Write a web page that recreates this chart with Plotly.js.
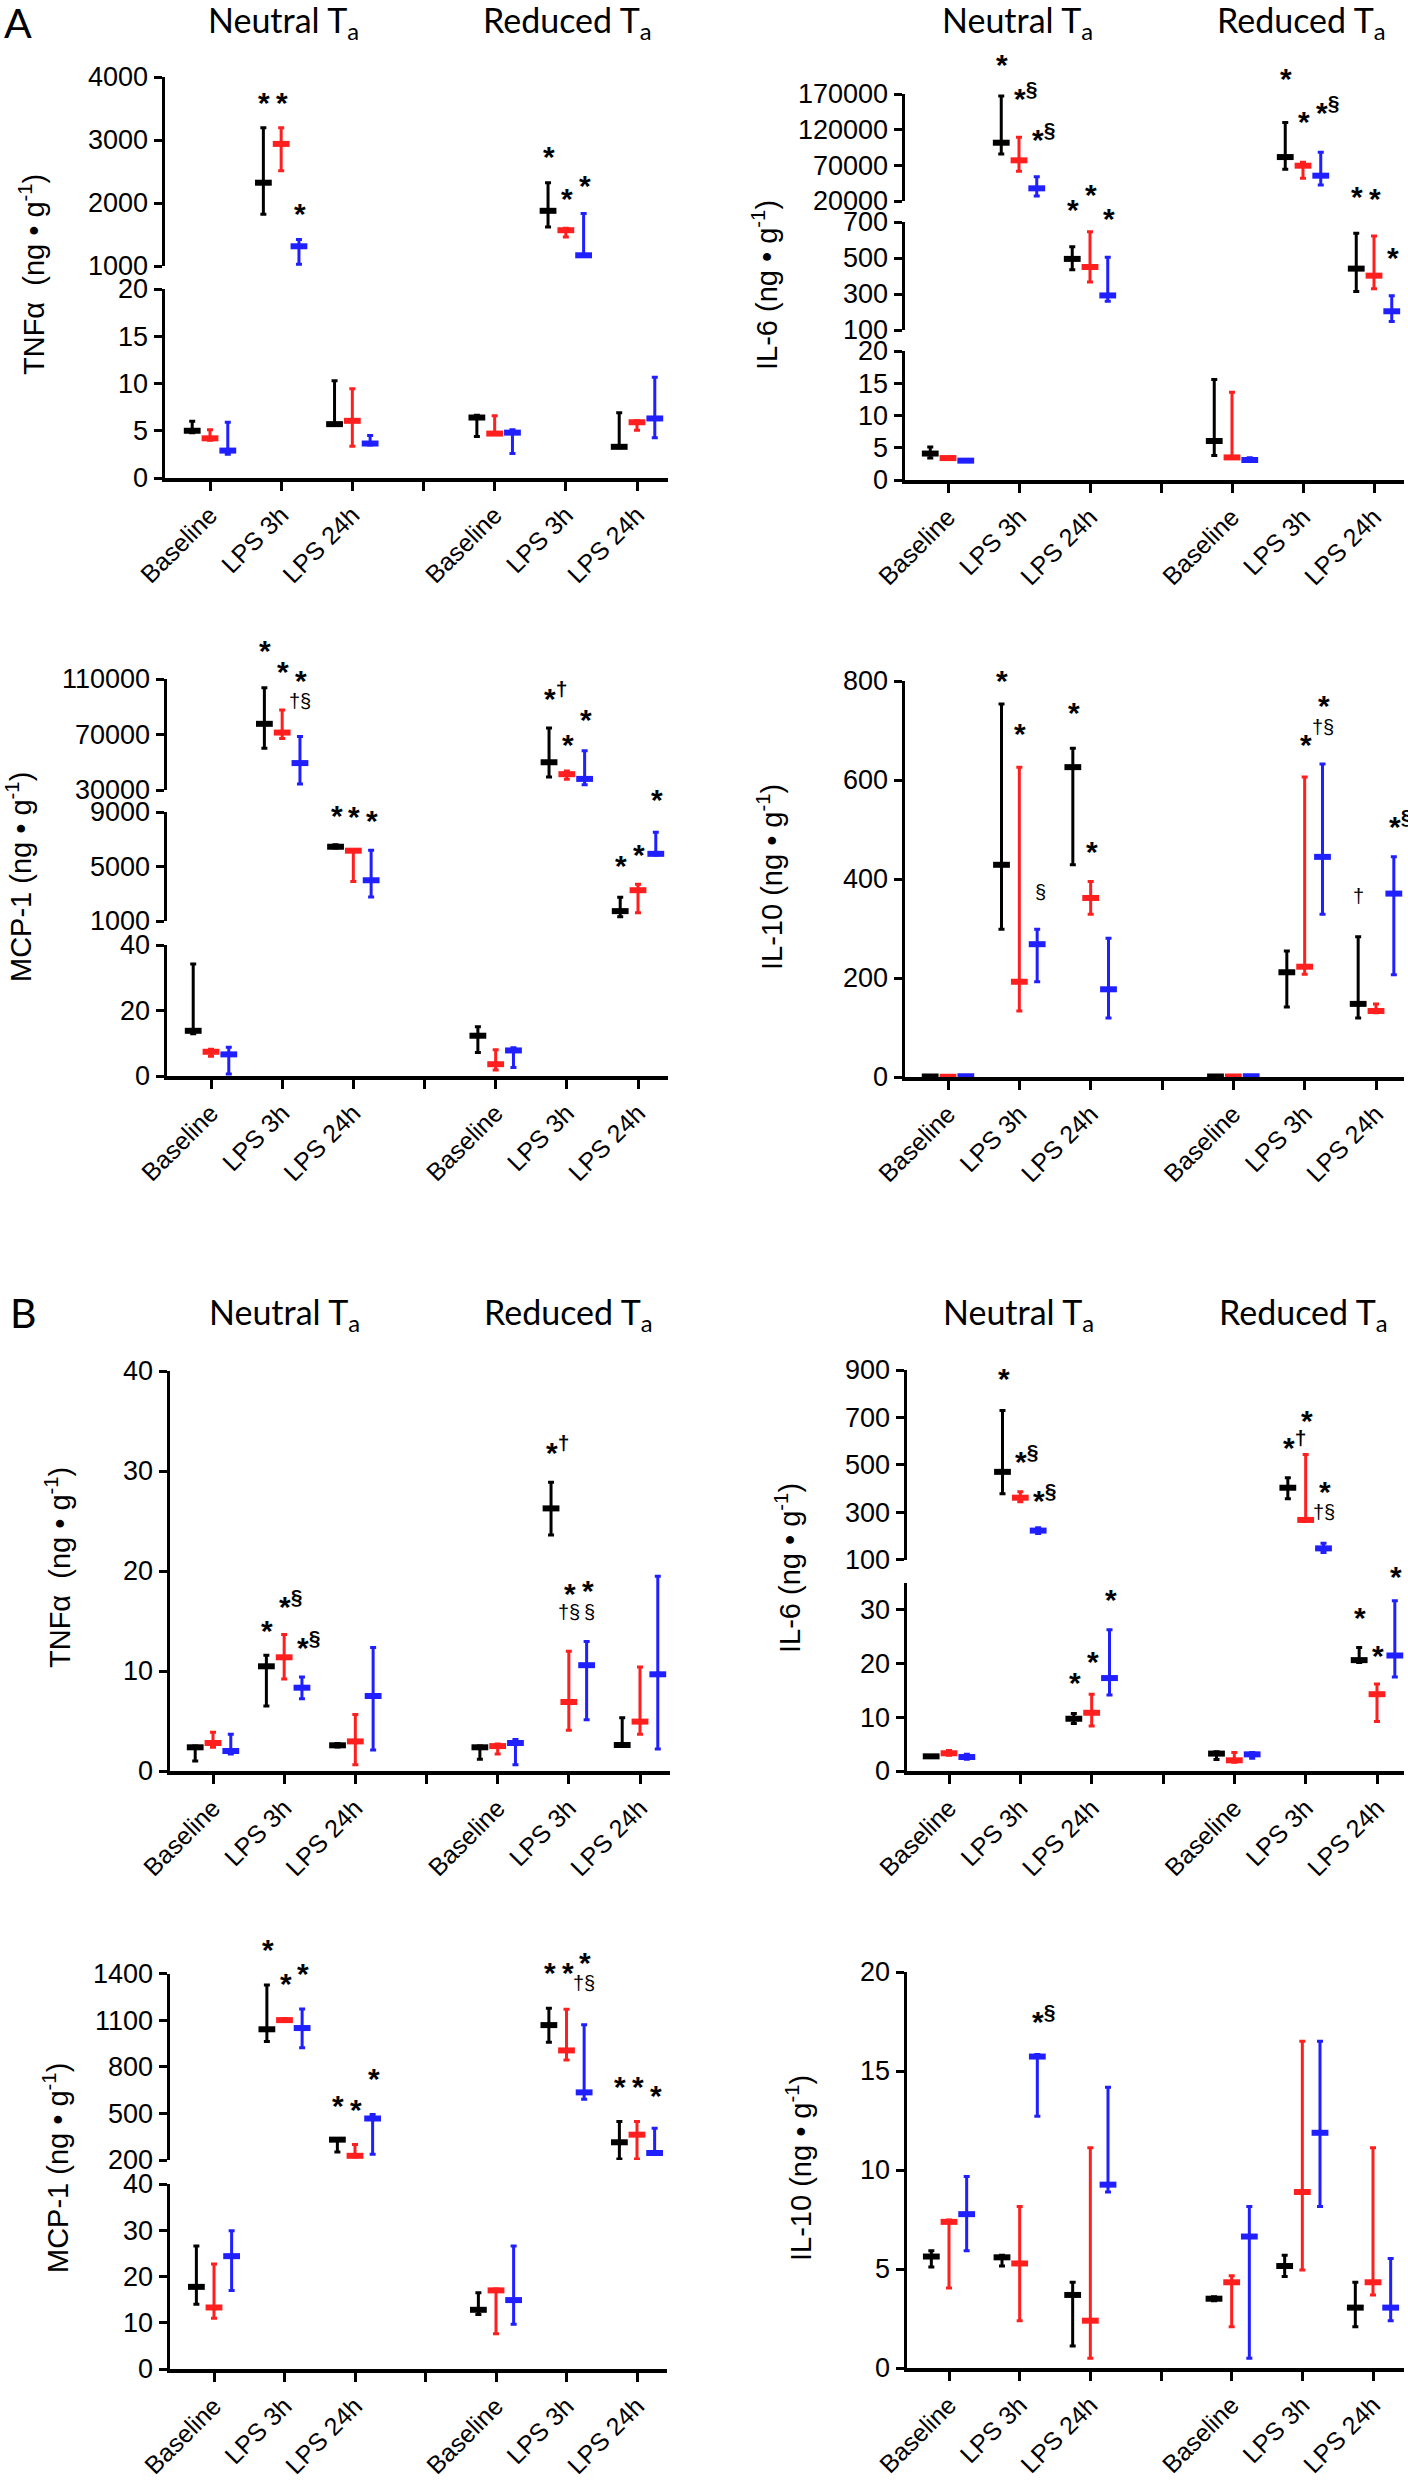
<!DOCTYPE html>
<html><head><meta charset="utf-8">
<script src="https://cdn.plot.ly/plotly-3.0.1.min.js"></script>
<style>html,body{margin:0;padding:0;background:#fff}</style>
</head><body><div id="chart" style="width:1408px;height:2483px"></div>
<script>
// ---------- DATA ----------
const categories = ['Baseline', 'LPS 3h', 'LPS 24h', 'Baseline', 'LPS 3h', 'LPS 24h'];
const conditions = ['Neutral', 'Neutral', 'Neutral', 'Reduced', 'Reduced', 'Reduced'];
const tickLabels = ['Baseline', 'LPS 3h', 'LPS 24h', '', 'Baseline', 'LPS 3h', 'LPS 24h'];
const tickPositions = [1, 2, 3, 4, 5, 6, 7];
const categoryPositions = [1, 2, 3, 5, 6, 7];
const seriesNames = ['Group 1 (black)', 'Group 2 (red)', 'Group 3 (blue)'];
const seriesColors = ['#000000', '#ff1f1f', '#1f1fff'];

// Panel A — TNFα
const A_TNF_black = [5.0, 2322, 5.7, 6.4, 1876, 3.3];
const A_TNF_black_hi = [6.0, 3193, 10.3, 6.65, 2322, 6.9];
const A_TNF_black_lo = [4.8, 1823, 5.6, 4.4, 1621, 3.2];
const A_TNF_red = [4.2, 2938, 6.05, 4.7, 1568, 5.9];
const A_TNF_red_hi = [5.1, 3193, 9.45, 6.6, 1600, 6.05];
const A_TNF_red_lo = [4.0, 2513, 3.36, 4.6, 1462, 5.06];
const A_TNF_blue = [2.9, 1313, 3.65, 4.8, 1170, 6.3];
const A_TNF_blue_hi = [5.9, 1420, 4.5, 5.1, 1834, 10.66];
const A_TNF_blue_lo = [2.5, 1027, 3.5, 2.6, 1150, 4.25];
// Panel A — IL-6
const A_IL6_black = [4.1, 101700, 495, 6.05, 81600, 441];
const A_IL6_black_hi = [5.1, 167100, 562, 15.6, 130200, 637];
const A_IL6_black_lo = [3.4, 85850, 435, 3.8, 64400, 314];
const A_IL6_red = [3.4, 77000, 450, 3.5, 69500, 402];
const A_IL6_red_hi = [3.5, 109200, 646, 13.6, 74200, 622];
const A_IL6_red_lo = [3.3, 61560, 366, 3.4, 51800, 329];
const A_IL6_blue = [3.0, 37750, 292, 3.1, 55500, 204];
const A_IL6_blue_hi = [3.1, 54100, 504, 3.46, 88200, 290];
const A_IL6_blue_lo = [2.9, 27000, 260, 3.0, 42400, 147];
// Panel A — MCP-1
const A_MCP1_black = [13.8, 77700, 6450, 12.3, 50000, 1725];
const A_MCP1_black_hi = [34.2, 103700, 6600, 15.0, 74600, 2740];
const A_MCP1_black_lo = [12.9, 60000, 6350, 7.2, 39400, 1320];
const A_MCP1_red = [7.4, 71400, 6160, 3.6, 41400, 3260];
const A_MCP1_red_hi = [8.2, 87700, 6250, 8.0, 43700, 3700];
const A_MCP1_red_lo = [6.0, 67100, 3900, 1.8, 37700, 1610];
const A_MCP1_blue = [6.6, 49400, 3990, 7.8, 38000, 5930];
const A_MCP1_blue_hi = [8.8, 68600, 6190, 8.6, 58300, 7520];
const A_MCP1_blue_lo = [0.6, 34300, 2770, 2.6, 33700, 5850];
// Panel A — IL-10
const A_IL10_black = [1, 428.7, 626, 1, 211.6, 147.7];
const A_IL10_black_hi = [2, 753.7, 664, 2, 254.7, 283.4];
const A_IL10_black_lo = [0.5, 298.6, 428.7, 0.5, 141.3, 119];
const A_IL10_red = [0.5, 192.4, 361.7, 1, 222.8, 133.3];
const A_IL10_red_hi = [1, 626, 395.2, 1.5, 606, 147.7];
const A_IL10_red_lo = [0, 133.3, 329, 0.5, 207.6, 130];
const A_IL10_blue = [1.5, 268.3, 177.2, 1.5, 444.7, 370.5];
const A_IL10_blue_hi = [2, 298.6, 280.2, 2, 632.3, 444.7];
const A_IL10_blue_lo = [1, 192.4, 119, 1, 329, 206.8];
// Panel B — TNFα
const B_TNF_black = [2.37, 10.47, 2.57, 2.37, 26.26, 2.6];
const B_TNF_black_hi = [2.5, 11.57, 2.76, 2.5, 28.87, 5.33];
const B_TNF_black_lo = [1.0, 6.5, 2.4, 1.18, 23.6, 2.5];
const B_TNF_red = [2.8, 11.37, 2.96, 2.49, 6.9, 4.94];
const B_TNF_red_hi = [3.87, 13.66, 5.65, 2.69, 11.97, 10.39];
const B_TNF_red_lo = [2.37, 9.2, 0.63, 1.7, 4.07, 3.67];
const B_TNF_blue = [2.0, 8.33, 7.5, 2.8, 10.58, 9.67];
const B_TNF_blue_hi = [3.67, 9.4, 12.36, 3.16, 12.95, 19.47];
const B_TNF_blue_lo = [1.7, 7.23, 2.09, 0.63, 5.13, 2.21];
// Panel B — IL-6
const B_IL6_black = [2.73, 470, 9.73, 3.24, 403, 20.64];
const B_IL6_black_hi = [2.9, 729, 10.7, 3.6, 445, 23.0];
const B_IL6_black_lo = [2.6, 378, 8.85, 2.14, 356, 20.2];
const B_IL6_red = [3.3, 361, 10.84, 1.99, 267, 14.3];
const B_IL6_red_hi = [3.8, 386, 14.3, 3.46, 543.5, 16.2];
const B_IL6_red_lo = [2.95, 344, 8.4, 1.62, 261, 9.2];
const B_IL6_blue = [2.6, 222, 17.3, 3.1, 147, 21.5];
const B_IL6_blue_hi = [3.1, 234, 26.3, 3.46, 169, 31.7];
const B_IL6_blue_lo = [2.2, 210, 14.15, 2.36, 130, 17.5];
// Panel B — MCP-1
const B_MCP1_black = [17.76, 1041, 331, 12.8, 1068, 314];
const B_MCP1_black_hi = [26.6, 1326, 339, 16.5, 1177, 447];
const B_MCP1_black_lo = [14.0, 962, 252, 11.8, 957, 207];
const B_MCP1_red = [13.3, 1100, 227, 17.0, 905, 363];
const B_MCP1_red_hi = [22.7, 1110, 299, 17.3, 1170, 447];
const B_MCP1_red_lo = [10.95, 1091, 220, 7.6, 843, 207];
const B_MCP1_blue = [24.4, 1049, 467, 14.9, 635, 245];
const B_MCP1_blue_hi = [29.9, 1172, 492, 26.6, 1071, 405];
const B_MCP1_blue_lo = [17.0, 922, 237, 9.7, 591, 240];
// Panel B — IL-10
const B_IL10_black = [5.63, 5.59, 3.69, 3.5, 5.15, 3.05];
const B_IL10_black_hi = [5.92, 5.69, 4.33, 3.6, 5.69, 4.33];
const B_IL10_black_lo = [5.1, 5.15, 1.11, 3.4, 4.62, 2.08];
const B_IL10_red = [7.38, 5.28, 2.39, 4.33, 8.89, 4.33];
const B_IL10_red_hi = [7.48, 8.16, 11.13, 4.66, 16.5, 11.13];
const B_IL10_red_lo = [4.04, 2.39, 0.49, 2.08, 4.95, 3.69];
const B_IL10_blue = [7.77, 15.73, 9.26, 6.64, 11.88, 3.05];
const B_IL10_blue_hi = [9.67, 15.83, 14.18, 8.16, 16.5, 5.53];
const B_IL10_blue_lo = [5.92, 12.72, 8.89, 0.49, 8.16, 2.39];

// significance marks: [category index, series index, value, text]
const A_TNF_notes = [[1,0,3700,'*'],[1,1,3700,'*'],[1,2,1940,'*'],[4,0,2857,'*'],[4,1,2175,'*'],[4,2,2381,'*']];
const A_IL6_notes = [[1,0,220500,'*'],[1,1,177000,'*§'],[1,2,119500,'*§'],[2,0,811,'*'],[2,1,894,'*'],[2,2,761,'*'],[4,0,200900,'*'],[4,1,140600,'*'],[4,2,157400,'*§'],[5,0,883,'*'],[5,1,872,'*'],[5,2,544,'*']];
const A_MCP1_notes = [[1,0,135600,'*'],[1,1,120100,'*'],[1,2,114300,'*'],[1,2,94100,'†§'],[2,0,9290,'*'],[2,1,9150,'*'],[2,2,8890,'*'],[4,0,102800,'*†'],[4,1,67500,'*'],[4,2,85500,'*'],[5,0,5620,'*'],[5,1,6430,'*'],[5,2,10400,'*']];
const A_IL10_notes = [[1,0,816,'*'],[1,1,708,'*'],[1,2,373,'§'],[2,0,750,'*'],[2,1,469,'*'],[4,1,686,'*'],[4,2,764,'*'],[4,2,708,'†§'],[5,0,365,'†'],[5,2,526,'*§']];
const B_TNF_notes = [[1,0,14.8,'*'],[1,1,17.4,'*§'],[1,2,13.35,'*§'],[4,0,32.8,'*†'],[4,1,18.5,'*'],[4,1,15.9,'†§'],[4,2,18.76,'*'],[4,2,15.9,'§']];
const B_IL6_notes = [[1,0,895,'*'],[1,1,554,'*§'],[1,2,390,'*§'],[2,0,17.8,'*'],[2,1,21.7,'*'],[2,2,33.3,'*'],[4,0,615,'*†'],[4,1,716,'*'],[4,2,415,'*'],[4,2,301,'†§'],[5,0,29.9,'*'],[5,1,22.85,'*'],[5,2,37.6,'*']];
const B_MCP1_notes = [[1,0,1600,'*'],[1,1,1383,'*'],[1,2,1444,'*'],[2,0,596,'*'],[2,1,571,'*'],[2,2,771,'*'],[4,0,1452,'*'],[4,1,1452,'*'],[4,2,1514,'*'],[4,2,1338,'†§'],[5,0,720,'*'],[5,1,720,'*'],[5,2,658,'*']];
const B_IL10_notes = [[1,2,17.96,'*§']];

// ---------- LAYOUT (pixel geometry) ----------
const W = 1408, H = 2483;
const px2x = p => p / W;
const px2y = p => 1 - p / H;
const SERIES_OFFSET = 0.25;
const UNIT = '(ng • g<sup>-1</sup>)';

const panels = [
  { title: 'TNFα\u00a0\u00a0' + UNIT, titlePos: [32, 275], xPx: [165, 668], tickPx: [210, 637],
    segs: [{ px: [289, 478], range: [0, 20], ticks: [0, 5, 10, 15, 20] },
           { px: [77, 266], range: [1000, 4000], ticks: [1000, 2000, 3000, 4000] }],
    catSeg: [0, 1, 0, 0, 1, 0],
    series: [[A_TNF_black, A_TNF_black_hi, A_TNF_black_lo], [A_TNF_red, A_TNF_red_hi, A_TNF_red_lo], [A_TNF_blue, A_TNF_blue_hi, A_TNF_blue_lo]],
    notes: A_TNF_notes },
  { title: 'IL-6 ' + UNIT, titlePos: [765, 285], xPx: [905, 1404], tickPx: [948, 1374],
    segs: [{ px: [351, 480], range: [0, 20], ticks: [0, 5, 10, 15, 20] },
           { px: [222, 330], range: [100, 700], ticks: [100, 300, 500, 700] },
           { px: [94, 201], range: [20000, 170000], ticks: [20000, 70000, 120000, 170000] }],
    catSeg: [0, 2, 1, 0, 2, 1],
    series: [[A_IL6_black, A_IL6_black_hi, A_IL6_black_lo], [A_IL6_red, A_IL6_red_hi, A_IL6_red_lo], [A_IL6_blue, A_IL6_blue_hi, A_IL6_blue_lo]],
    notes: A_IL6_notes },
  { title: 'MCP-1 ' + UNIT, titlePos: [19, 877], xPx: [167, 668], tickPx: [211, 638],
    segs: [{ px: [945, 1076], range: [0, 40], ticks: [0, 20, 40] },
           { px: [812, 921], range: [1000, 9000], ticks: [1000, 5000, 9000] },
           { px: [679, 790], range: [30000, 110000], ticks: [30000, 70000, 110000] }],
    catSeg: [0, 2, 1, 0, 2, 1],
    series: [[A_MCP1_black, A_MCP1_black_hi, A_MCP1_black_lo], [A_MCP1_red, A_MCP1_red_hi, A_MCP1_red_lo], [A_MCP1_blue, A_MCP1_blue_hi, A_MCP1_blue_lo]],
    notes: A_MCP1_notes },
  { title: 'IL-10 ' + UNIT, titlePos: [770, 877], xPx: [905, 1404], tickPx: [948, 1376],
    segs: [{ px: [681, 1077], range: [0, 800], ticks: [0, 200, 400, 600, 800] }],
    catSeg: [0, 0, 0, 0, 0, 0],
    series: [[A_IL10_black, A_IL10_black_hi, A_IL10_black_lo], [A_IL10_red, A_IL10_red_hi, A_IL10_red_lo], [A_IL10_blue, A_IL10_blue_hi, A_IL10_blue_lo]],
    notes: A_IL10_notes },
  { title: 'TNFα\u00a0\u00a0' + UNIT, titlePos: [58, 1568], xPx: [170, 670], tickPx: [213, 640],
    segs: [{ px: [1371, 1771], range: [0, 40], ticks: [0, 10, 20, 30, 40] }],
    catSeg: [0, 0, 0, 0, 0, 0],
    series: [[B_TNF_black, B_TNF_black_hi, B_TNF_black_lo], [B_TNF_red, B_TNF_red_hi, B_TNF_red_lo], [B_TNF_blue, B_TNF_blue_hi, B_TNF_blue_lo]],
    notes: B_TNF_notes },
  { title: 'IL-6 ' + UNIT, titlePos: [788, 1568], xPx: [907, 1404], tickPx: [949, 1377],
    segs: [{ px: [1583, 1771], range: [0, 35], ticks: [0, 10, 20, 30] },
           { px: [1370, 1559.5], range: [100, 900], ticks: [100, 300, 500, 700, 900] }],
    catSeg: [0, 1, 0, 0, 1, 0],
    series: [[B_IL6_black, B_IL6_black_hi, B_IL6_black_lo], [B_IL6_red, B_IL6_red_hi, B_IL6_red_lo], [B_IL6_blue, B_IL6_blue_hi, B_IL6_blue_lo]],
    notes: B_IL6_notes },
  { title: 'MCP-1 ' + UNIT, titlePos: [56, 2168], xPx: [170, 667], tickPx: [214, 637],
    segs: [{ px: [2184, 2369], range: [0, 40], ticks: [0, 10, 20, 30, 40] },
           { px: [1973.5, 2160], range: [200, 1400], ticks: [200, 500, 800, 1100, 1400] }],
    catSeg: [0, 1, 1, 0, 1, 1],
    series: [[B_MCP1_black, B_MCP1_black_hi, B_MCP1_black_lo], [B_MCP1_red, B_MCP1_red_hi, B_MCP1_red_lo], [B_MCP1_blue, B_MCP1_blue_hi, B_MCP1_blue_lo]],
    notes: B_MCP1_notes },
  { title: 'IL-10 ' + UNIT, titlePos: [799, 2168], xPx: [907, 1404], tickPx: [949, 1373],
    segs: [{ px: [1972, 2368], range: [0, 20], ticks: [0, 5, 10, 15, 20] }],
    catSeg: [0, 0, 0, 0, 0, 0],
    series: [[B_IL10_black, B_IL10_black_hi, B_IL10_black_lo], [B_IL10_red, B_IL10_red_hi, B_IL10_red_lo], [B_IL10_blue, B_IL10_blue_hi, B_IL10_blue_lo]],
    notes: B_IL10_notes }
];

const headers = [
  { text: 'A', x: 2, y: 22, size: 41, anchor: 'left' },
  { text: 'B', x: 8, y: 1312, size: 41, anchor: 'left' },
  { text: 'Neutral T<sub>a</sub>', x: 283, y: 22, size: 34, anchor: 'center' },
  { text: 'Reduced T<sub>a</sub>', x: 567, y: 22, size: 34, anchor: 'center' },
  { text: 'Neutral T<sub>a</sub>', x: 1017, y: 22, size: 34, anchor: 'center' },
  { text: 'Reduced T<sub>a</sub>', x: 1301, y: 22, size: 34, anchor: 'center' },
  { text: 'Neutral T<sub>a</sub>', x: 284, y: 1314, size: 34, anchor: 'center' },
  { text: 'Reduced T<sub>a</sub>', x: 568, y: 1314, size: 34, anchor: 'center' },
  { text: 'Neutral T<sub>a</sub>', x: 1018, y: 1314, size: 34, anchor: 'center' },
  { text: 'Reduced T<sub>a</sub>', x: 1303, y: 1314, size: 34, anchor: 'center' }
];

// ---------- BUILD ----------
const FONT = 'Liberation Sans, Arial, sans-serif';
const YTICK_SIZE = 27;
const XTICK_SIZE = 25;
const AX_W = 3.5;
const traces = [];
const annotations = [];
const layout = {
  width: W, height: H, margin: { l: 0, r: 0, t: 0, b: 0 },
  paper_bgcolor: '#fff', plot_bgcolor: 'rgba(0,0,0,0)', showlegend: false,
  font: { family: FONT, color: '#000', size: YTICK_SIZE }
};

let xi = 0, yi = 0;
const axName = (letter, n) => letter + (n === 1 ? '' : n);

panels.forEach(p => {
  xi += 1;
  const xId = axName('x', xi);
  const k = (p.tickPx[1] - p.tickPx[0]) / 6;
  const r0 = 1 - (p.tickPx[0] - p.xPx[0]) / k;
  const r1 = 7 + (p.xPx[1] - p.tickPx[1]) / k;
  const segIds = p.segs.map(() => { yi += 1; return axName('y', yi); });

  layout['xaxis' + (xi === 1 ? '' : xi)] = {
    domain: [px2x(p.xPx[0]), px2x(p.xPx[1])], range: [r0, r1], anchor: segIds[0],
    tickmode: 'array', tickvals: tickPositions, ticktext: tickLabels, tickangle: -45,
    ticks: 'outside', ticklen: 9, tickwidth: 3, tickcolor: '#000',
    showline: true, linewidth: AX_W, linecolor: '#000', showgrid: false, zeroline: false,
    tickfont: { family: FONT, size: XTICK_SIZE, color: '#000' }
  };
  p.segs.forEach((s, si) => {
    const yKey = 'yaxis' + (segIds[si] === 'y' ? '' : segIds[si].slice(1));
    layout[yKey] = {
      domain: [px2y(s.px[1]), px2y(s.px[0])], range: s.range, anchor: xId,
      tickmode: 'array', tickvals: s.ticks, tickformat: 'd',
      ticks: 'outside', ticklen: 8, tickwidth: 3, tickcolor: '#000',
      showline: true, linewidth: AX_W, linecolor: '#000', showgrid: false, zeroline: false,
      tickfont: { family: FONT, size: YTICK_SIZE, color: '#000' }
    };
  });

  // data traces
  p.series.forEach((ser, sIdx) => {
    const [mean, hi, lo] = ser;
    p.segs.forEach((s, si) => {
      const idx = p.catSeg.map((c, i) => c === si ? i : -1).filter(i => i >= 0);
      if (!idx.length) return;
      traces.push({
        type: 'scatter', mode: 'markers', name: seriesNames[sIdx],
        xaxis: xId, yaxis: segIds[si], cliponaxis: false,
        x: idx.map(i => categoryPositions[i] + (sIdx - 1) * SERIES_OFFSET),
        y: idx.map(i => mean[i]),
        text: idx.map(i => conditions[i] + ' ' + categories[i]),
        marker: { symbol: 'line-ew', size: 12, color: seriesColors[sIdx], line: { width: 6, color: seriesColors[sIdx] } },
        error_y: { type: 'data', symmetric: false,
          array: idx.map(i => hi[i] - mean[i]), arrayminus: idx.map(i => mean[i] - lo[i]),
          color: seriesColors[sIdx], thickness: 3, width: 3 }
      });
    });
  });

  // significance annotations
  p.notes.forEach(([cat, sIdx, val, txt]) => {
    const s = p.segs[p.catSeg[cat]];
    const yPx = s.px[1] - (val - s.range[0]) / (s.range[1] - s.range[0]) * (s.px[1] - s.px[0]);
    const star = txt[0] === '*';
    let html = txt;
    let size = 30;
    if (star && txt.length > 1) html = '*<sup>' + txt.slice(1) + '</sup>';
    if (!star) size = 20;
    annotations.push({
      xref: xId, yref: 'paper', x: categoryPositions[cat] + (sIdx - 1) * SERIES_OFFSET, y: px2y(yPx),
      text: html, showarrow: false, font: { family: FONT, size: size, color: '#000', weight: star ? 'bold' : 'normal' },
      xanchor: star ? 'left' : 'center', xshift: star ? -7 : (txt === '§' ? 3 : 0),
      yanchor: 'middle', yshift: star ? -7 : 0
    });
  });

  // y-axis title
  annotations.push({
    xref: 'paper', yref: 'paper', x: px2x(p.titlePos[0]), y: px2y(p.titlePos[1]),
    text: p.title, textangle: -90, showarrow: false, xanchor: 'center', yanchor: 'middle',
    font: { family: FONT, size: 29, color: '#000' }
  });
});

headers.forEach(h => annotations.push({
  xref: 'paper', yref: 'paper', x: px2x(h.x), y: px2y(h.y), text: h.text, showarrow: false,
  xanchor: h.anchor, yanchor: 'middle', font: { family: 'Lato, Open Sans, sans-serif', size: h.size, color: '#000' }
}));

layout.annotations = annotations;
Plotly.newPlot('chart', traces, layout, { staticPlot: true });
</script>
</body></html>
